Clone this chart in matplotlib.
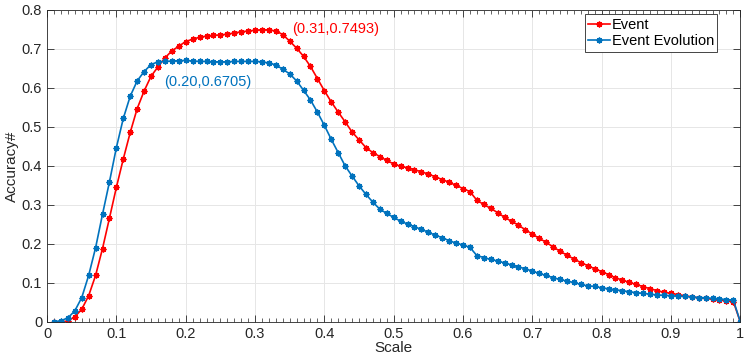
import numpy as np
import matplotlib
matplotlib.use('Agg')
import matplotlib.pyplot as plt
from matplotlib.ticker import MultipleLocator

plt.rcParams['font.family'] = ['Liberation Sans', 'DejaVu Sans']

# scale steps 0.01 .. 1.00
scale = np.arange(1, 101) / 100

event = [0.000, 0.000, 0.002, 0.013, 0.032, 0.067, 0.119, 0.188, 0.266, 0.345,
         0.418, 0.486, 0.547, 0.592, 0.630, 0.654, 0.677, 0.695, 0.707, 0.719,
         0.725, 0.730, 0.733, 0.735, 0.736, 0.738, 0.741, 0.744, 0.746, 0.748,
         0.7493, 0.749, 0.746, 0.737, 0.720, 0.702, 0.681, 0.655, 0.624, 0.593,
         0.564, 0.538, 0.513, 0.487, 0.467, 0.447, 0.434, 0.424, 0.414, 0.405,
         0.399, 0.395, 0.390, 0.385, 0.379, 0.372, 0.365, 0.358, 0.350, 0.342,
         0.334, 0.312, 0.301, 0.291, 0.280, 0.268, 0.258, 0.248, 0.236, 0.225,
         0.214, 0.204, 0.192, 0.181, 0.171, 0.161, 0.152, 0.144, 0.136, 0.129,
         0.121, 0.113, 0.107, 0.101, 0.096, 0.090, 0.085, 0.080, 0.076, 0.073,
         0.070, 0.067, 0.064, 0.062, 0.060, 0.058, 0.056, 0.054, 0.052, 0.000]

evolution = [0.000, 0.003, 0.010, 0.028, 0.062, 0.119, 0.190, 0.276, 0.359, 0.447,
             0.522, 0.579, 0.618, 0.642, 0.660, 0.667, 0.668, 0.669, 0.670, 0.6705,
             0.669, 0.668, 0.668, 0.667, 0.667, 0.667, 0.668, 0.668, 0.668, 0.668,
             0.667, 0.664, 0.659, 0.648, 0.636, 0.618, 0.594, 0.569, 0.538, 0.504,
             0.468, 0.434, 0.400, 0.374, 0.349, 0.327, 0.307, 0.289, 0.278, 0.268,
             0.258, 0.251, 0.244, 0.237, 0.230, 0.222, 0.216, 0.208, 0.202, 0.197,
             0.191, 0.170, 0.165, 0.160, 0.156, 0.151, 0.146, 0.141, 0.136, 0.130,
             0.124, 0.119, 0.113, 0.109, 0.104, 0.101, 0.096, 0.092, 0.091, 0.087,
             0.085, 0.082, 0.080, 0.077, 0.075, 0.073, 0.071, 0.069, 0.068, 0.067,
             0.066, 0.065, 0.064, 0.062, 0.062, 0.060, 0.059, 0.057, 0.056, 0.000]

xticks = [0, 0.1, 0.2, 0.3, 0.4, 0.5, 0.6, 0.7, 0.8, 0.9, 1]
xlabels = ['0', '0.1', '0.2', '0.3', '0.4', '0.5', '0.6', '0.7', '0.8', '0.9', '1']
yticks = [0, 0.1, 0.2, 0.3, 0.4, 0.5, 0.6, 0.7, 0.8]
ylabels = ['0', '0.1', '0.2', '0.3', '0.4', '0.5', '0.6', '0.7', '0.8']

red = '#FF0000'
blue = '#0072BD'

fig = plt.figure(figsize=(7.47, 3.56), dpi=100)
ax = fig.add_axes([0.063, 0.096, 0.928, 0.876])

ast = (8, 2, 0)
ax.plot(scale, event, color=red, lw=1.2, marker=ast, ms=4.2, mew=1.0, label='Event')
ax.plot(scale, evolution, color=blue, lw=1.2, marker=ast, ms=4.2, mew=1.0,
        label='Event Evolution')

ax.text(0.353, 0.750, '(0.31,0.7493)', color=red, fontsize=10.5, va='center')
ax.text(0.169, 0.615, '(0.20,0.6705)', color=blue, fontsize=10.5, va='center')

ax.set_xlim(0, 1)
ax.set_ylim(0, 0.8)
ax.set_xticks(xticks)
ax.set_xticklabels(xlabels)
ax.set_yticks(yticks)
ax.set_yticklabels(ylabels)
ax.xaxis.set_minor_locator(MultipleLocator(0.01))
ax.tick_params(which='both', direction='in', top=True, right=True,
               labelsize=10.5, colors='#262626')
ax.tick_params(which='major', length=5, width=0.6)
ax.tick_params(which='minor', length=3, width=0.5)
ax.tick_params(axis='y', which='minor', left=False, right=False)
for s in ax.spines.values():
    s.set_color('#262626')
    s.set_linewidth(0.6)

ax.grid(True, which='major', color='#e6e6e6', lw=0.7)
ax.set_axisbelow(True)

ax.set_xlabel('Scale', fontsize=11, labelpad=0, color='#262626')
ax.set_ylabel('Accuracy#', fontsize=11, labelpad=2, color='#262626')

leg = ax.legend(loc='upper right', bbox_to_anchor=(0.967, 0.987), fontsize=10.5,
                fancybox=False, framealpha=1, edgecolor='#262626',
                handlelength=1.5, handletextpad=0.1, borderpad=0.25,
                labelspacing=0.15, borderaxespad=0)
leg.get_frame().set_linewidth(0.6)

fig.savefig('out.png', dpi=100)
